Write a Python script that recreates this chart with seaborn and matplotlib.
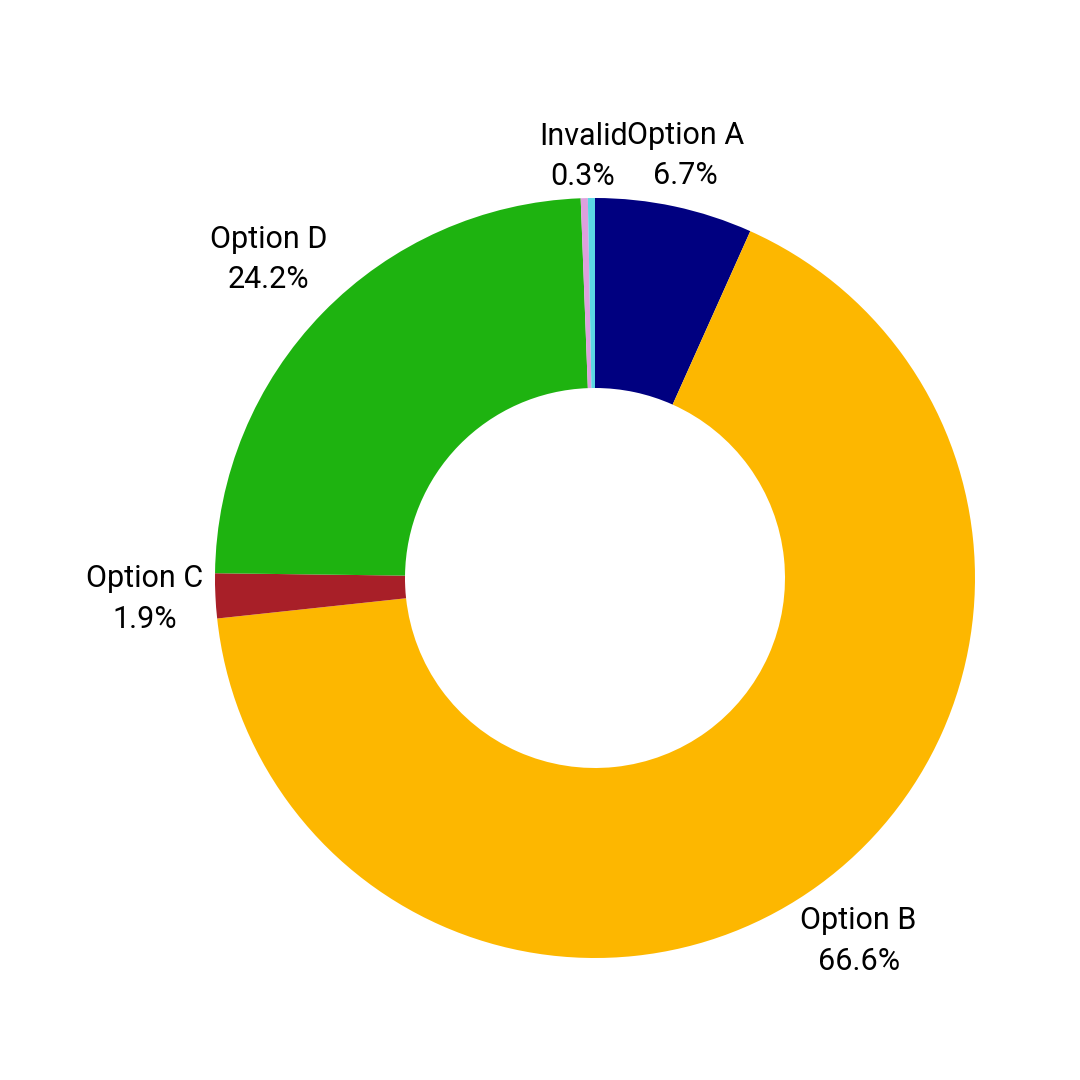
import matplotlib
matplotlib.use('Agg')
import numpy as np
import matplotlib.pyplot as plt
import seaborn as sns

# Data (clockwise from top)
labels = ['Option A', 'Option B', 'Option C', 'Option D', 'Invalid', '']
values = [6.7, 66.6, 1.9, 24.2, 0.3, 0.3]
colors = ['#000080', '#FDB700', '#A81F28', '#1EB310', '#DDA0DD', '#5BD7E3']

# Radial distance of each label (in pie radii)
label_dist = [1.137, 1.18, 1.187, 1.2, 1.11, 1.15]

sns.set_theme(style='white')
plt.rcParams['font.family'] = ['Roboto', 'DejaVu Sans']

fig = plt.figure(figsize=(10.8, 10.8), dpi=100)
ax = fig.add_axes([120 / 1080, 27 / 1080, 950 / 1080, 950 / 1080])

text_labels = [f'{l}\n{v:.1f}%' if l else '' for l, v in zip(labels, values)]

wedges, texts = ax.pie(
    values,
    labels=text_labels,
    colors=colors,
    startangle=90,
    counterclock=False,
    labeldistance=1.18,
    wedgeprops=dict(width=0.5, edgecolor='none', linewidth=0),
    textprops=dict(fontsize=22, color='black', ha='center', va='center',
                   linespacing=1.5),
)
for w, t, d in zip(wedges, texts, label_dist):
    ang = np.deg2rad((w.theta1 + w.theta2) / 2)
    t.set_position((d * np.cos(ang), d * np.sin(ang)))
    t.set_horizontalalignment('center')
    t.set_verticalalignment('center')

fig.savefig('out.png', dpi=100, facecolor='white')
